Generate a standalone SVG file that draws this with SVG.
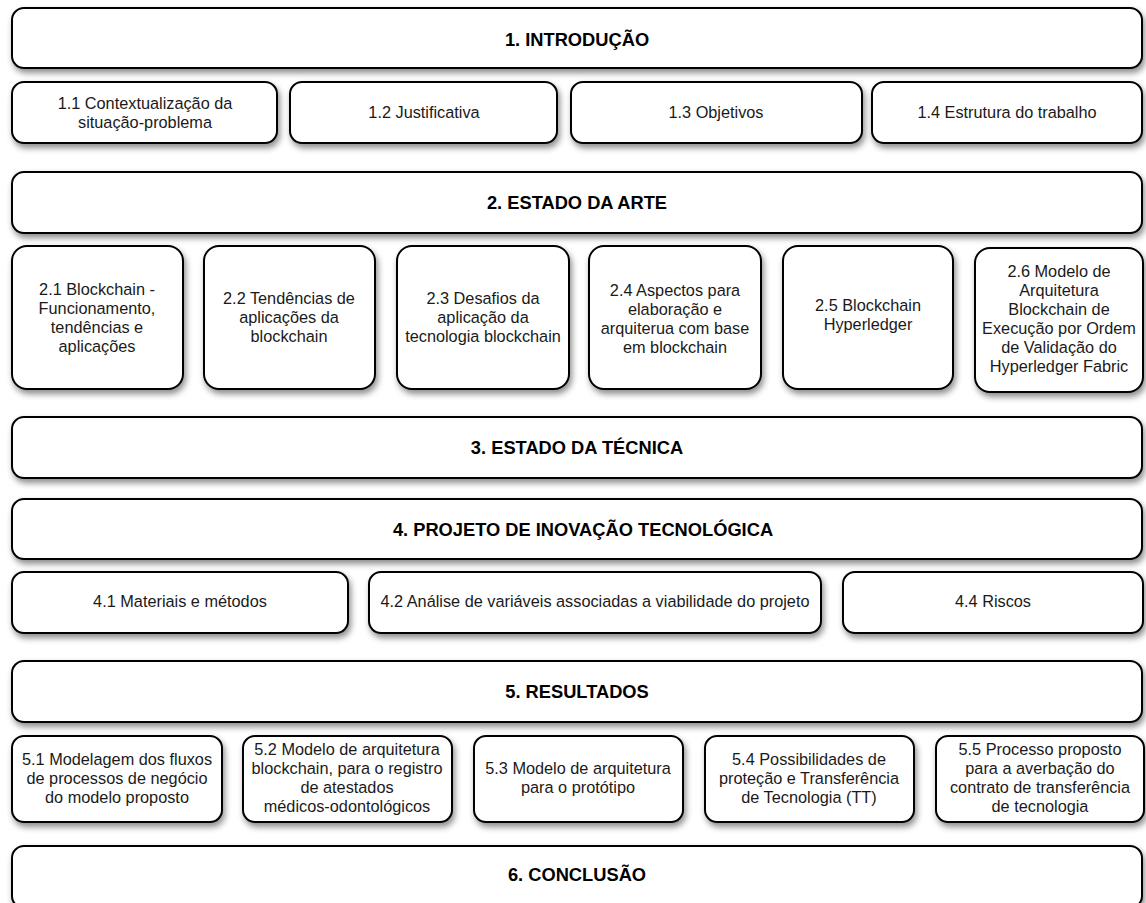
<svg xmlns="http://www.w3.org/2000/svg" width="1146" height="903" viewBox="0 0 1146 903">
  <defs>
    <filter id="shadow" x="-10%" y="-20%" width="120%" height="150%">
      <feDropShadow dx="2" dy="4" stdDeviation="3" flood-color="#000" flood-opacity="0.45"/>
    </filter>
  </defs>
  <style>
    .box { fill: #fff; stroke: #000; stroke-width: 2; filter: url(#shadow); }
    .h { font-family: "Liberation Sans", Arial, sans-serif; font-size: 18.3px; font-weight: bold; fill: #000; text-anchor: middle; dominant-baseline: central; }
    .t { font-family: "Liberation Sans", Arial, sans-serif; font-size: 16.3px; fill: #1a1a1a; text-anchor: middle; dominant-baseline: central; }
  </style>
  <rect width="1146" height="903" fill="#fff"/>

  <!-- Chapter 1 -->
  <g id="ch1"><rect class="box" x="12" y="8" width="1130" height="60" rx="12"/><text class="h" x="577" y="39">1. INTRODUÇÃO</text></g>
  <g id="s1-1"><rect class="box" x="12" y="82" width="265" height="61" rx="12"/><text class="t" x="145"><tspan x="145" y="103">1.1 Contextualização da</tspan><tspan x="145" y="122">situação-problema</tspan></text></g>
  <g id="s1-2"><rect class="box" x="290" y="82" width="267" height="61" rx="12"/><text class="t" x="424" y="112">1.2 Justificativa</text></g>
  <g id="s1-3"><rect class="box" x="571" y="82" width="291" height="61" rx="12"/><text class="t" x="716" y="112">1.3 Objetivos</text></g>
  <g id="s1-4"><rect class="box" x="872" y="82" width="270" height="61" rx="12"/><text class="t" x="1007" y="112">1.4 Estrutura do trabalho</text></g>

  <!-- Chapter 2 -->
  <g id="ch2"><rect class="box" x="12" y="172" width="1130" height="61" rx="12"/><text class="h" x="577" y="202">2. ESTADO DA ARTE</text></g>
  <g id="s2-1"><rect class="box" x="12" y="246" width="171" height="143" rx="15"/><text class="t"><tspan x="97" y="289">2.1 Blockchain -</tspan><tspan x="97" y="308">Funcionamento,</tspan><tspan x="97" y="327">tendências e</tspan><tspan x="97" y="346">aplicações</tspan></text></g>
  <g id="s2-2"><rect class="box" x="204" y="246" width="171" height="143" rx="15"/><text class="t"><tspan x="289" y="298">2.2 Tendências de</tspan><tspan x="289" y="317">aplicações da</tspan><tspan x="289" y="336">blockchain</tspan></text></g>
  <g id="s2-3"><rect class="box" x="397" y="246" width="172" height="143" rx="15"/><text class="t"><tspan x="483" y="298">2.3 Desafios da</tspan><tspan x="483" y="317">aplicação da</tspan><tspan x="483" y="336">tecnologia blockchain</tspan></text></g>
  <g id="s2-4"><rect class="box" x="589" y="246" width="172" height="143" rx="15"/><text class="t"><tspan x="675" y="290">2.4 Aspectos para</tspan><tspan x="675" y="309">elaboração e</tspan><tspan x="675" y="328">arquiterua com base</tspan><tspan x="675" y="347">em blockchain</tspan></text></g>
  <g id="s2-5"><rect class="box" x="783" y="246" width="170" height="143" rx="15"/><text class="t"><tspan x="868" y="305">2.5 Blockchain</tspan><tspan x="868" y="324">Hyperledger</tspan></text></g>
  <g id="s2-6"><rect class="box" x="975" y="248" width="168" height="144" rx="15"/><text class="t"><tspan x="1059" y="271">2.6 Modelo de</tspan><tspan x="1059" y="290">Arquitetura</tspan><tspan x="1059" y="309">Blockchain de</tspan><tspan x="1059" y="328">Execução por Ordem</tspan><tspan x="1059" y="347">de Validação do</tspan><tspan x="1059" y="366">Hyperledger Fabric</tspan></text></g>

  <!-- Chapter 3 -->
  <g id="ch3"><rect class="box" x="12" y="417" width="1130" height="61" rx="12"/><text class="h" x="577" y="447">3. ESTADO DA TÉCNICA</text></g>

  <!-- Chapter 4 -->
  <g id="ch4"><rect class="box" x="12" y="499" width="1130" height="60" rx="12"/><text class="h" x="583" y="529">4. PROJETO DE INOVAÇÃO TECNOLÓGICA</text></g>
  <g id="s4-1"><rect class="box" x="12" y="572" width="336" height="61" rx="12"/><text class="t" x="180" y="601">4.1 Materiais e métodos</text></g>
  <g id="s4-2"><rect class="box" x="369" y="572" width="452" height="61" rx="12"/><text class="t" x="595" y="601">4.2 Análise de variáveis associadas a viabilidade do projeto</text></g>
  <g id="s4-4"><rect class="box" x="843" y="572" width="300" height="61" rx="12"/><text class="t" x="993" y="601">4.4 Riscos</text></g>

  <!-- Chapter 5 -->
  <g id="ch5"><rect class="box" x="12" y="661" width="1130" height="61" rx="12"/><text class="h" x="577" y="691">5. RESULTADOS</text></g>
  <g id="s5-1"><rect class="box" x="12" y="736" width="210" height="86" rx="12"/><text class="t"><tspan x="117" y="759">5.1 Modelagem dos fluxos</tspan><tspan x="117" y="778">de processos de negócio</tspan><tspan x="117" y="797">do modelo proposto</tspan></text></g>
  <g id="s5-2"><rect class="box" x="243" y="736" width="209" height="86" rx="12"/><text class="t"><tspan x="347" y="749">5.2 Modelo de arquitetura</tspan><tspan x="347" y="768">blockchain, para o registro</tspan><tspan x="347" y="787">de atestados</tspan><tspan x="347" y="806">médicos-odontológicos</tspan></text></g>
  <g id="s5-3"><rect class="box" x="474" y="736" width="209" height="86" rx="12"/><text class="t"><tspan x="578" y="768">5.3 Modelo de arquitetura</tspan><tspan x="578" y="787">para o protótipo</tspan></text></g>
  <g id="s5-4"><rect class="box" x="705" y="736" width="209" height="86" rx="12"/><text class="t"><tspan x="809" y="759">5.4 Possibilidades de</tspan><tspan x="809" y="778">proteção e Transferência</tspan><tspan x="809" y="797">de Tecnologia (TT)</tspan></text></g>
  <g id="s5-5"><rect class="box" x="936" y="736" width="208" height="86" rx="12"/><text class="t"><tspan x="1040" y="749">5.5 Processo proposto</tspan><tspan x="1040" y="768">para a averbação do</tspan><tspan x="1040" y="787">contrato de transferência</tspan><tspan x="1040" y="806">de tecnologia</tspan></text></g>

  <!-- Chapter 6 -->
  <g id="ch6"><rect class="box" x="12" y="846" width="1130" height="62" rx="12"/><text class="h" x="577" y="874">6. CONCLUSÃO</text></g>

  <g id="connectors"/>
</svg>
